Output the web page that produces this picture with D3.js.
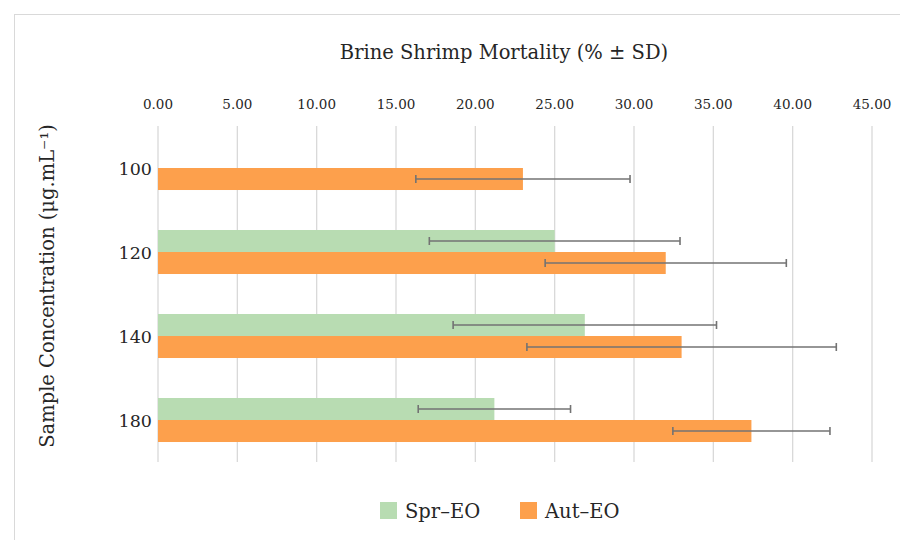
<!DOCTYPE html>
<html>
<head>
<meta charset="utf-8">
<script src="https://cdn.jsdelivr.net/npm/d3@7"></script>
<style>
  body { margin: 0; background: #fff; }
  text { font-family: "DejaVu Serif", serif; fill: #262626; }
</style>
</head>
<body>
<svg id="chart" width="900" height="540"></svg>
<script>
// Data
let categories = ['100', '120', '140', '180']
let seriesNames = ['Spr–EO', 'Aut–EO']
let sprValues = [null, 25.0, 26.9, 21.2]
let sprSD = [null, 7.9, 8.3, 4.8]
let autValues = [23.0, 32.0, 33.0, 37.4]
let autSD = [6.75, 7.6, 9.75, 4.95]
let xTicks = [0, 5, 10, 15, 20, 25, 30, 35, 40, 45]

let colors = ['#b8dcb2', '#fda04c']

let svg = d3.select('#chart')

// outer frame
svg.append('rect')
  .attr('x', 14.5)
  .attr('y', 14.5)
  .attr('width', 900)
  .attr('height', 540)
  .style('fill', 'none')
  .style('stroke', '#d9d9d9')

let x = d3.scaleLinear().domain([0, 45]).range([158, 872])

let y = d3.scaleBand()
  .domain(categories)
  .range([126, 462])
  .paddingInner(0.476)
  .paddingOuter(0.238)

let ySub = d3.scaleBand()
  .domain(seriesNames)
  .range([0, y.bandwidth()])

// gridlines
svg.append('g')
  .attr('id', 'grid')
  .selectAll('line')
  .data(xTicks)
  .join('line')
  .attr('x1', d => x(d))
  .attr('x2', d => x(d))
  .attr('y1', 126)
  .attr('y2', 462)
  .style('stroke', '#d9d9d9')
  .style('stroke-width', 1.3)

// top axis labels
svg.append('g')
  .attr('id', 'xlabels')
  .selectAll('text')
  .data(xTicks)
  .join('text')
  .attr('x', d => x(d))
  .attr('y', 109)
  .attr('text-anchor', 'middle')
  .style('font-size', '13.5px')
  .text(d => d.toFixed(2))

// category labels
svg.append('g')
  .attr('id', 'ylabels')
  .selectAll('text')
  .data(categories)
  .join('text')
  .attr('x', 152)
  .attr('y', d => y(d) + y.bandwidth() / 2 + 7)
  .attr('text-anchor', 'end')
  .style('font-size', '17.5px')
  .text(d => d)

let rows = []
categories.forEach((c, i) => {
  rows.push({ cat: c, series: seriesNames[0], value: sprValues[i], sd: sprSD[i], color: colors[0] })
  rows.push({ cat: c, series: seriesNames[1], value: autValues[i], sd: autSD[i], color: colors[1] })
})
rows = rows.filter(d => d.value != null)

// bars
svg.append('g')
  .attr('id', 'bars')
  .selectAll('rect')
  .data(rows)
  .join('rect')
  .attr('x', x(0))
  .attr('y', d => y(d.cat) + ySub(d.series))
  .attr('width', d => x(d.value) - x(0))
  .attr('height', ySub.bandwidth())
  .style('fill', d => d.color)

// error bars
let err = svg.append('g').attr('id', 'errors')
  .selectAll('g')
  .data(rows)
  .join('g')
  .attr('transform', d => `translate(0, ${y(d.cat) + ySub(d.series) + ySub.bandwidth() / 2})`)

err.append('line')
  .attr('x1', d => x(d.value - d.sd))
  .attr('x2', d => x(d.value + d.sd))
  .attr('y1', 0)
  .attr('y2', 0)
err.selectAll('line.cap')
  .data(d => [d.value - d.sd, d.value + d.sd])
  .join('line')
  .attr('class', 'cap')
  .attr('x1', d => x(d))
  .attr('x2', d => x(d))
  .attr('y1', -4)
  .attr('y2', 4)
err.selectAll('line')
  .style('stroke', '#737373')
  .style('stroke-width', 1.6)

// titles
svg.append('text')
  .attr('x', 504)
  .attr('y', 59)
  .attr('text-anchor', 'middle')
  .style('font-size', '19.5px')
  .text('Brine Shrimp Mortality (% ± SD)')

svg.append('text')
  .attr('transform', 'translate(54, 286) rotate(-90)')
  .attr('text-anchor', 'middle')
  .style('font-size', '19.5px')
  .text('Sample Concentration (μg.mL⁻¹)')

// legend
let legend = svg.append('g')
  .attr('id', 'legend')
  .selectAll('g')
  .data(seriesNames)
  .join('g')
  .attr('transform', (d, i) => `translate(${380 + i * 140}, 502)`)

legend.append('rect')
  .attr('width', 17)
  .attr('height', 17)
  .style('fill', (d, i) => colors[i])

legend.append('text')
  .attr('x', 25)
  .attr('y', 16)
  .style('font-size', '19.5px')
  .text(d => d)
</script>
</body>
</html>
